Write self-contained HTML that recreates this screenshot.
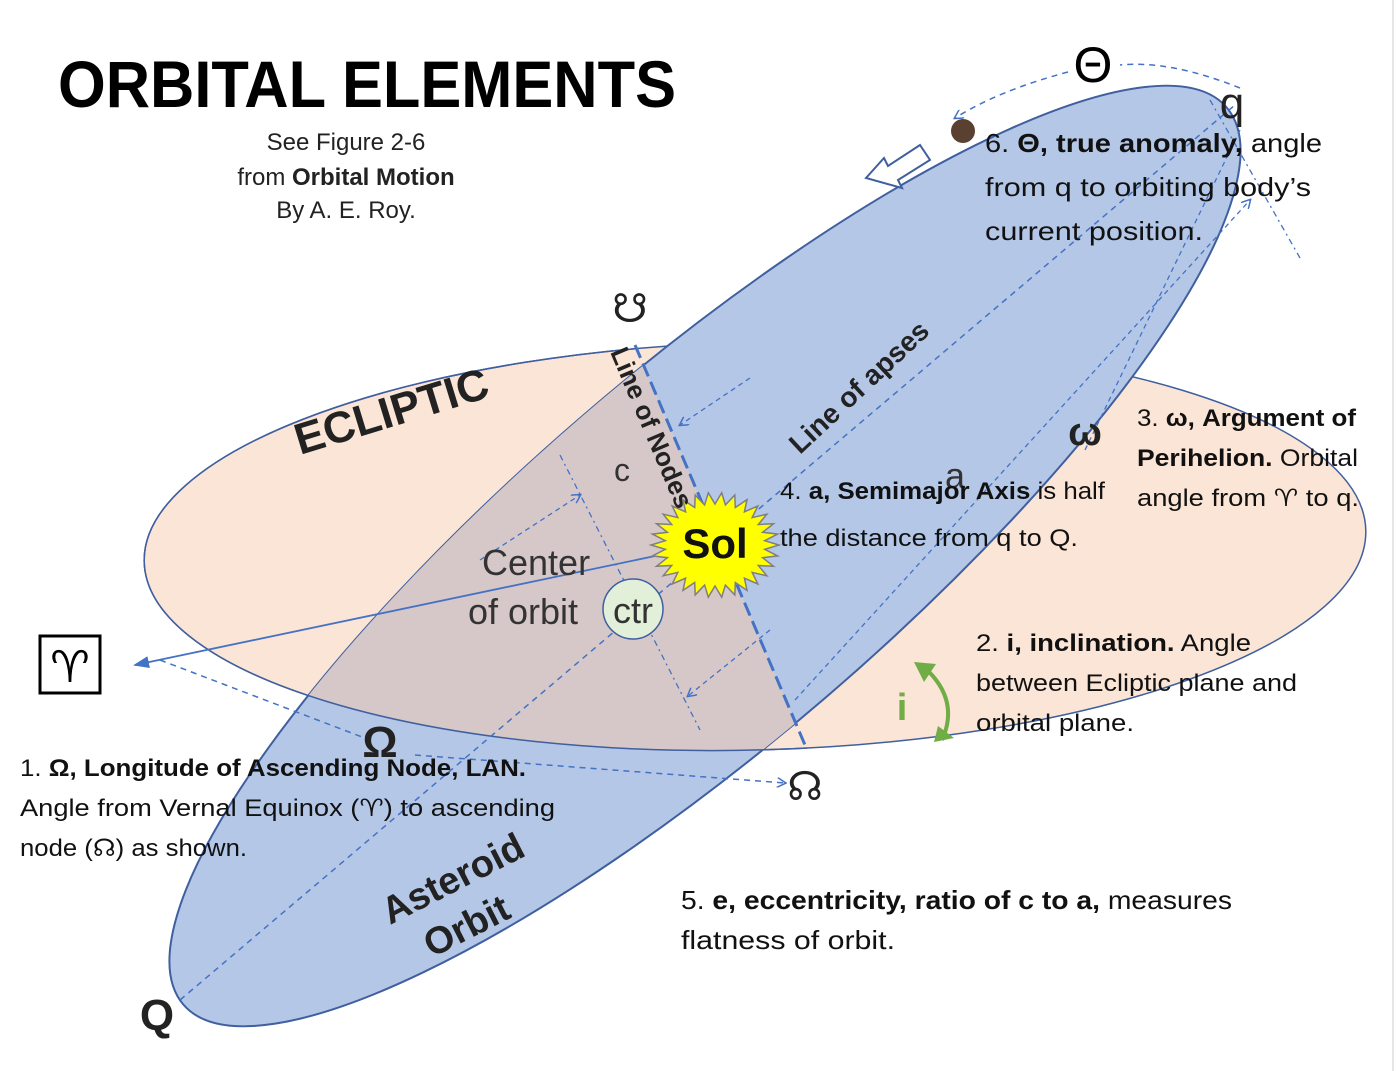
<!DOCTYPE html>
<html><head><meta charset="utf-8"><style>
html,body{margin:0;padding:0;background:#fff;width:1396px;height:1071px;overflow:hidden;}
svg{display:block;}
text{font-family:"Liberation Sans","DejaVu Sans",sans-serif;}
</style></head><body>
<svg width="1396" height="1071" viewBox="0 0 1396 1071" xmlns="http://www.w3.org/2000/svg">
<defs>
<clipPath id="ecl"><ellipse cx="755" cy="546" rx="611" ry="204" transform="rotate(-1.5 755 546)"/></clipPath>
<clipPath id="left"><polygon points="0,0 488,0 944,1071 0,1071"/></clipPath>
<marker id="ah" markerWidth="10" markerHeight="10" refX="8" refY="5" orient="auto" markerUnits="userSpaceOnUse"><path d="M0,0 L9,5 L0,10" fill="none" stroke="#4472c4" stroke-width="1.5"/></marker>
<marker id="ahf" markerWidth="16" markerHeight="12" refX="14" refY="6" orient="auto" markerUnits="userSpaceOnUse"><path d="M0,0 L16,6 L0,12 z" fill="#4472c4"/></marker>
</defs>
<rect width="1396" height="1071" fill="#fff"/>
<line x1="1393" y1="0" x2="1393" y2="1071" stroke="#e6e6e6" stroke-width="2"/>
<ellipse cx="755" cy="546" rx="611" ry="204" transform="rotate(-1.5 755 546)" fill="#fbe5d6" stroke="#3f5f9f" stroke-width="1.5"/>
<ellipse cx="705" cy="556" rx="688" ry="186" transform="rotate(-40.7 705 556)" fill="#b4c7e7" stroke="#3f5f9f" stroke-width="2"/>
<g clip-path="url(#ecl)"><g clip-path="url(#left)">
<ellipse cx="705" cy="556" rx="688" ry="186" transform="rotate(-40.7 705 556)" fill="#d6c8c9"/>
</g></g>
<g clip-path="url(#left)"><ellipse cx="755" cy="546" rx="611" ry="204" transform="rotate(-1.5 755 546)" fill="none" stroke="#3f5f9f" stroke-width="1.5"/></g>
<line x1="635" y1="345" x2="805" y2="745" stroke="#4472c4" stroke-width="3" stroke-dasharray="14,6"/>
<line x1="180" y1="1000" x2="1235" y2="105" stroke="#4472c4" stroke-width="1.5" stroke-dasharray="6,5"/>
<line x1="560" y1="455" x2="700" y2="730" stroke="#4472c4" stroke-width="1.3" stroke-dasharray="6,4,2,4"/>
<line x1="480" y1="560" x2="580" y2="495" stroke="#4472c4" stroke-width="1.3" stroke-dasharray="5,4" marker-end="url(#ah)"/>
<line x1="750" y1="378" x2="680" y2="425" stroke="#4472c4" stroke-width="1.3" stroke-dasharray="5,4" marker-end="url(#ah)"/>
<line x1="770" y1="630" x2="688" y2="696" stroke="#4472c4" stroke-width="1.3" stroke-dasharray="5,4" marker-end="url(#ah)"/>
<line x1="795" y1="700" x2="1250" y2="200" stroke="#4472c4" stroke-width="1.3" stroke-dasharray="5,4" marker-end="url(#ah)"/>
<line x1="1085" y1="450" x2="1240" y2="130" stroke="#4472c4" stroke-width="1.3" stroke-dasharray="5,4"/>
<line x1="1210" y1="100" x2="1300" y2="258" stroke="#4472c4" stroke-width="1.3" stroke-dasharray="6,4,2,4"/>
<path d="M1240,88 Q1170,60 1120,65" fill="none" stroke="#4472c4" stroke-width="1.5" stroke-dasharray="6,5"/>
<path d="M1068,72 Q1000,90 955,118" fill="none" stroke="#4472c4" stroke-width="1.5" stroke-dasharray="6,5" marker-end="url(#ah)"/>
<line x1="160" y1="660" x2="370" y2="740" stroke="#4472c4" stroke-width="1.5" stroke-dasharray="6,5"/>
<line x1="415" y1="755" x2="785" y2="783" stroke="#4472c4" stroke-width="1.5" stroke-dasharray="6,5" marker-end="url(#ah)"/>
<line x1="655" y1="556" x2="135" y2="665" stroke="#4472c4" stroke-width="1.8" marker-end="url(#ahf)"/>
<polygon points="866,178 884,158 888,166 920,145 930,160 898,180 902,188" fill="#fff" stroke="#3f5f9f" stroke-width="2"/>
<circle cx="963" cy="131" r="12" fill="#5a4030"/>
<polygon id="sun" fill="#ffff00" stroke="#7f7f7f" stroke-width="1.5" points=""/>
<text x="715" y="558" font-size="42" font-weight="bold" text-anchor="middle" fill="#111">Sol</text>
<circle cx="633" cy="609" r="30" fill="#e2f0d9" stroke="#3f5f9f" stroke-width="1.5"/>
<text x="633" y="623" font-size="36" text-anchor="middle" fill="#333">ctr</text>
<text x="482" y="575" font-size="36" fill="#333">Center</text>
<text x="468" y="624" font-size="36" fill="#333">of orbit</text>
<text x="614" y="481" font-size="32" fill="#333">c</text>
<text x="58" y="107" font-size="66" font-weight="bold" textLength="618" lengthAdjust="spacingAndGlyphs">ORBITAL ELEMENTS</text>
<text x="346" y="150" font-size="24" text-anchor="middle" fill="#222">See Figure 2-6</text>
<text x="346" y="185" font-size="24" text-anchor="middle" fill="#222">from <tspan font-weight="bold">Orbital Motion</tspan></text>
<text x="346" y="218" font-size="24" text-anchor="middle" fill="#222">By A. E. Roy.</text>
<text x="300" y="455" font-size="44" font-weight="bold" fill="#222" transform="rotate(-17 300 455)">ECLIPTIC</text>
<text x="610" y="352" font-size="26" font-weight="bold" fill="#222" transform="rotate(67 610 352)">Line of Nodes</text>
<text x="800" y="455" font-size="28" font-weight="bold" fill="#222" transform="rotate(-43 800 455)">Line of apses</text>
<text x="390" y="925" font-size="38" font-weight="bold" fill="#222" transform="rotate(-27 390 925)">Asteroid</text>
<text x="432" y="958" font-size="38" font-weight="bold" fill="#222" transform="rotate(-27 432 958)">Orbit</text>
<text x="1093" y="82" font-size="50" text-anchor="middle">Θ</text>
<text x="1232" y="118" font-size="44" text-anchor="middle" fill="#222">q</text>
<text x="157" y="1030" font-size="44" font-weight="bold" text-anchor="middle" fill="#222">Q</text>
<text x="630" y="322" font-size="40" text-anchor="middle" fill="#222">☋</text>
<text x="805" y="800" font-size="40" text-anchor="middle" fill="#222">☊</text>
<text x="1085" y="445" font-size="40" font-weight="bold" text-anchor="middle" fill="#222">ω</text>
<text x="380" y="757" font-size="44" font-weight="bold" text-anchor="middle" fill="#222">Ω</text>
<text x="955" y="488" font-size="36" text-anchor="middle" fill="#333">a</text>
<rect x="40" y="636" width="60" height="57" fill="#fff" stroke="#000" stroke-width="3"/>
<text x="70" y="682" font-size="44" text-anchor="middle">♈</text>
<path d="M925,668 Q960,700 942,740" fill="none" stroke="#70ad47" stroke-width="4"/>
<polygon points="914,662 936,664 924,682" fill="#70ad47"/>
<polygon points="934,742 954,738 938,726" fill="#70ad47"/>
<text x="902" y="720" font-size="38" font-weight="bold" fill="#70ad47" text-anchor="middle">i</text>
<g font-size="26" fill="#111">
<text x="985" y="152" textLength="337" lengthAdjust="spacingAndGlyphs">6. <tspan font-weight="bold">Θ, true anomaly,</tspan> angle</text>
<text x="985" y="196" textLength="326" lengthAdjust="spacingAndGlyphs">from q to orbiting body’s</text>
<text x="985" y="240" textLength="218" lengthAdjust="spacingAndGlyphs">current position.</text>
<text x="1137" y="426" font-size="24" textLength="219" lengthAdjust="spacingAndGlyphs">3. <tspan font-weight="bold">ω, Argument of</tspan></text>
<text x="1137" y="466" font-size="24" font-weight="bold" textLength="221" lengthAdjust="spacingAndGlyphs">Perihelion. <tspan font-weight="normal">Orbital</tspan></text>
<text x="1137" y="506" font-size="24" textLength="222" lengthAdjust="spacingAndGlyphs">angle from ♈ to q.</text>
<text x="780" y="499" font-size="24" textLength="325" lengthAdjust="spacingAndGlyphs">4. <tspan font-weight="bold">a, Semimajor Axis</tspan> is half</text>
<text x="780" y="546" font-size="24" textLength="298" lengthAdjust="spacingAndGlyphs">the distance from q to Q.</text>
<text x="976" y="651" font-size="24" textLength="275" lengthAdjust="spacingAndGlyphs">2.  <tspan font-weight="bold">i, inclination.</tspan>  Angle</text>
<text x="976" y="691" font-size="24" textLength="321" lengthAdjust="spacingAndGlyphs">between Ecliptic plane and</text>
<text x="976" y="731" font-size="24" textLength="158" lengthAdjust="spacingAndGlyphs">orbital plane.</text>
<text x="20" y="776" font-size="24" textLength="506" lengthAdjust="spacingAndGlyphs">1.  <tspan font-weight="bold">Ω, Longitude of Ascending Node, LAN.</tspan></text>
<text x="20" y="816" font-size="24" textLength="535" lengthAdjust="spacingAndGlyphs">Angle from  Vernal Equinox (♈) to ascending</text>
<text x="20" y="856" font-size="24" textLength="227" lengthAdjust="spacingAndGlyphs">node (☊) as shown.</text>
<text x="681" y="909" font-size="26" textLength="551" lengthAdjust="spacingAndGlyphs">5. <tspan font-weight="bold">e, eccentricity, ratio of c to a,</tspan> measures</text>
<text x="681" y="949" font-size="26" textLength="214" lengthAdjust="spacingAndGlyphs">flatness of orbit.</text>
</g>
</svg>
<script>
(function(){var p=[],cx=715,cy=545,n=30;for(var i=0;i<2*n;i++){var r=i%2?50:64,a=i*Math.PI/n;p.push((cx+r*Math.cos(a)).toFixed(1)+","+(cy+r*0.82*Math.sin(a)).toFixed(1));}document.getElementById('sun').setAttribute('points',p.join(' '));})();
</script>
</body></html>
